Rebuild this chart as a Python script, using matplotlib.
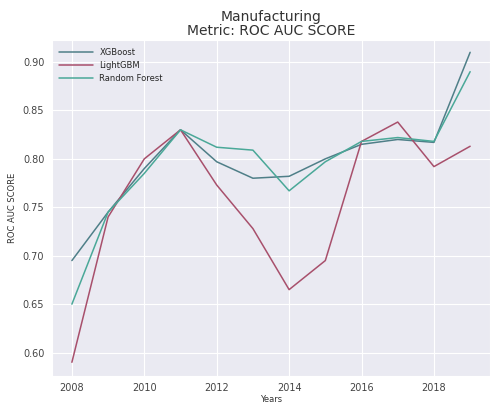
import matplotlib
matplotlib.use("Agg")
import matplotlib.pyplot as plt
import seaborn as sns

years = [2008, 2009, 2010, 2011, 2012, 2013, 2014, 2015, 2016, 2017, 2018, 2019]
xgboost = [0.695, 0.745, 0.790, 0.830, 0.797, 0.780, 0.782, 0.800, 0.815, 0.820, 0.817, 0.910]
lightgbm = [0.590, 0.740, 0.800, 0.830, 0.773, 0.728, 0.665, 0.695, 0.818, 0.838, 0.792, 0.813]
random_forest = [0.650, 0.745, 0.785, 0.830, 0.812, 0.809, 0.767, 0.797, 0.818, 0.822, 0.818, 0.890]

sns.set_style("darkgrid")

fig, ax = plt.subplots(figsize=(4.95, 4.05), dpi=100)
fig.subplots_adjust(left=0.105, right=0.99, top=0.901, bottom=0.072)

ax.plot(years, xgboost, color="#4f7f88", lw=1.1, label="XGBoost")
ax.plot(years, lightgbm, color="#a8506c", lw=1.1, label="LightGBM")
ax.plot(years, random_forest, color="#4aa898", lw=1.1, label="Random Forest")

ax.set_title("Manufacturing\nMetric: ROC AUC SCORE", fontsize=10, color="#333333", pad=4, linespacing=1.0)
ax.set_xlabel("Years", fontsize=6, color="#333333", labelpad=1)
ax.set_ylabel("ROC AUC SCORE", fontsize=6, color="#333333")
ax.tick_params(labelsize=7, colors="#444444", pad=2)
ax.set_yticks([0.60, 0.65, 0.70, 0.75, 0.80, 0.85, 0.90])
ax.set_yticklabels(["0.60", "0.65", "0.70", "0.75", "0.80", "0.85", "0.90"])
ax.set_xticks([2008, 2010, 2012, 2014, 2016, 2018])
ax.set_ylim(0.576, 0.9226)

ax.legend(loc="upper left", fontsize=6, frameon=False, handlelength=4)

fig.savefig("out.png", dpi=100)
